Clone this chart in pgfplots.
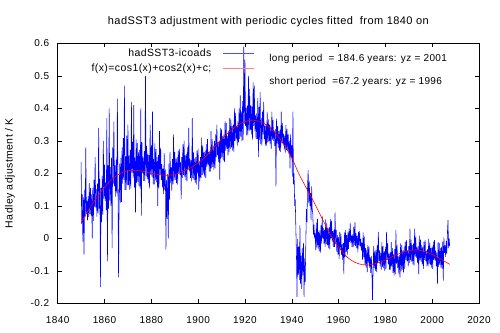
\documentclass[border=0pt]{standalone}
\usepackage{fontspec}
\setmainfont{Liberation Sans}
\newfontfamily\spaced[LetterSpace=4]{Liberation Sans}
\usepackage{pgfplots}
\pgfplotsset{compat=1.18}

\begin{document}
\begin{tikzpicture}[font=\fontsize{10bp}{12bp}\selectfont]
\begin{axis}[
  name=ax,
  scale only axis,
  width=421.3bp, height=260bp,
  xmin=1840, xmax=2020, ymin=-0.2, ymax=0.6,
  xtick={1840,1860,1880,1900,1920,1940,1960,1980,2000,2020},
  xticklabels={1840,1860,1880,1900,1920,1940,1960,1980,2000,2020},
  ytick={-0.2,-0.1,0,0.1,0.2,0.3,0.4,0.5,0.6},
  yticklabels={-0.2,-0.1,0,0.1,0.2,0.3,0.4,0.5,0.6},
  tick align=inside,
  major tick length=4bp,
  tick style={black, line width=0.5bp},
  axis line style={black, line width=0.6bp},
  ticklabel style={font=\fontsize{10bp}{12bp}\spaced},
  xticklabel style={yshift=-10bp},
  yticklabel style={xshift=-5bp},
  legend cell align=right,
  legend plot pos=right,
  legend style={draw=none, fill=none, inner sep=0pt,
    at={(axis description cs:0.468,0.982)}, anchor=north east,
    column sep=10bp, row sep=3.2bp,
    nodes={inner sep=1bp, text height=7.5bp, text depth=2bp},
    font=\fontsize{10.5bp}{12bp}\spaced},
]
% quarterly adjustment values, 1850.00 to 2007.50
\addplot[blue, line width=0.55bp,
  legend image code/.code={\draw[blue!70, line width=1bp] (0bp,0bp) -- (31bp,0bp);}]
  table[row sep=\\, header=false,
  x expr={1850+0.25*\coordindex}, y index=0] {
0.235\\0.044\\0.135\\-0.01\\
0.126\\-0.05\\0.15\\0.066\\
0.28\\0.075\\0.115\\0.055\\
0.13\\0.065\\0.17\\0.075\\
0.155\\0.07\\0.135\\0.0\\
0.156\\0.054\\0.18\\0.096\\
0.25\\0.095\\0.151\\0.067\\
0.168\\0.077\\0.34\\0.091\\
0.183\\-0.15\\0.155\\0.05\\
0.192\\0.073\\0.30\\0.122\\
0.227\\0.115\\0.171\\0.087\\
0.37\\-0.07\\0.224\\0.091\\
0.40\\0.116\\0.22\\0.10\\
0.248\\-0.03\\0.28\\0.168\\
0.36\\0.16\\0.224\\0.128\\
0.242\\0.138\\0.43\\0.154\\
-0.12\\0.126\\0.23\\0.11\\
0.248\\0.112\\0.28\\0.168\\
0.308\\0.18\\0.47\\0.148\\
0.252\\0.148\\0.316\\0.164\\
0.35\\0.164\\0.255\\0.15\\
0.272\\0.153\\0.42\\0.202\\
0.297\\0.185\\0.41\\0.157\\
0.248\\0.08\\0.304\\0.171\\
0.293\\0.174\\0.265\\0.16\\
0.272\\0.153\\0.40\\0.07\\
0.296\\0.20\\0.248\\0.176\\
0.268\\0.177\\0.50\\0.191\\
0.284\\0.182\\0.26\\0.17\\
0.256\\0.154\\0.35\\0.196\\
0.286\\0.19\\0.39\\0.166\\
0.244\\0.166\\0.292\\0.178\\
0.274\\0.172\\0.25\\0.10\\
0.256\\0.154\\0.33\\0.196\\
0.276\\0.18\\0.228\\0.156\\
0.214\\0.136\\0.262\\0.148\\
0.212\\-0.035\\0.18\\0.06\\
0.198\\0.0\\0.23\\0.118\\
0.266\\0.17\\0.218\\0.146\\
0.244\\0.166\\0.32\\0.178\\
0.265\\0.18\\0.245\\0.17\\
0.25\\0.165\\0.27\\0.20\\
0.275\\0.195\\0.235\\0.12\\
0.25\\0.185\\0.29\\0.195\\
0.30\\0.19\\0.255\\0.18\\
0.26\\0.175\\0.28\\0.21\\
0.34\\0.205\\0.245\\0.185\\
0.24\\0.175\\0.37\\0.185\\
0.265\\0.18\\0.245\\0.17\\
0.25\\0.165\\0.27\\0.20\\
0.275\\0.15\\0.235\\0.175\\
0.25\\0.185\\0.31\\0.195\\
0.285\\0.20\\0.265\\0.19\\
0.27\\0.185\\0.29\\0.22\\
0.305\\0.225\\0.265\\0.205\\
0.27\\0.205\\0.33\\0.215\\
0.305\\0.22\\0.285\\0.21\\
0.30\\0.215\\0.32\\0.25\\
0.35\\0.255\\0.295\\0.235\\
0.30\\0.18\\0.34\\0.245\\
0.335\\0.25\\0.315\\0.24\\
0.32\\0.235\\0.36\\0.27\\
0.355\\0.275\\0.315\\0.255\\
0.33\\0.265\\0.37\\0.275\\
0.365\\0.28\\0.345\\0.27\\
0.35\\0.265\\0.40\\0.30\\
0.385\\0.305\\0.345\\0.285\\
0.36\\0.295\\0.40\\0.305\\
0.44\\0.312\\0.39\\0.30\\
0.422\\0.303\\0.59\\0.352\\
0.55\\0.345\\0.401\\0.317\\
0.408\\0.317\\0.50\\0.331\\
0.46\\0.332\\0.41\\0.32\\
0.406\\0.304\\0.48\\0.346\\
0.47\\0.33\\0.378\\0.306\\
0.384\\0.306\\0.432\\0.25\\
0.404\\0.302\\0.45\\0.29\\
0.37\\0.285\\0.39\\0.32\\
0.42\\0.305\\0.345\\0.285\\
0.35\\0.285\\0.39\\0.295\\
0.366\\0.298\\0.35\\0.29\\
0.344\\0.276\\0.39\\0.304\\
0.364\\0.30\\0.332\\0.284\\
0.336\\0.16\\0.368\\0.292\\
0.346\\0.278\\0.33\\0.27\\
0.334\\0.266\\0.39\\0.294\\
0.354\\0.29\\0.322\\0.274\\
0.316\\0.264\\0.348\\0.272\\
0.336\\0.268\\0.32\\0.26\\
0.30\\0.215\\0.32\\0.25\\
0.286\\0.19\\0.39\\0.166\\
0.20\\0.10\\0.12\\0.03\\
-0.046\\-0.18\\-0.002\\-0.112\\
-0.026\\-0.128\\0.04\\-0.14\\
-0.054\\-0.156\\-0.03\\-0.114\\
-0.014\\-0.18\\-0.062\\-0.134\\
-0.02\\0.09\\0.05\\0.16\\
0.21\\0.11\\0.175\\0.10\\
0.14\\0.055\\0.16\\0.09\\
0.074\\0.01\\0.042\\0.0\\
0.016\\-0.036\\0.048\\-0.028\\
0.06\\-0.032\\0.02\\-0.04\\
0.024\\-0.044\\0.04\\-0.016\\
0.07\\0.0\\0.032\\-0.016\\
0.026\\-0.026\\0.058\\-0.018\\
0.046\\-0.022\\0.03\\-0.03\\
0.034\\-0.034\\0.06\\0.0\\
0.054\\-0.01\\0.022\\-0.026\\
0.026\\-0.026\\0.08\\-0.018\\
0.026\\-0.042\\0.01\\-0.05\\
0.004\\-0.064\\0.02\\-0.036\\
0.014\\-0.05\\-0.018\\-0.066\\
-0.014\\-0.11\\0.018\\-0.058\\
0.026\\-0.042\\0.01\\-0.05\\
0.018\\-0.033\\0.03\\-0.012\\
0.046\\-0.015\\0.009\\-0.027\\
0.012\\-0.027\\0.036\\-0.021\\
0.05\\-0.024\\0.015\\-0.03\\
0.008\\-0.043\\0.02\\-0.022\\
0.023\\-0.025\\-0.001\\-0.037\\
-0.014\\-0.066\\0.018\\-0.058\\
0.005\\-0.082\\-0.03\\-0.09\\
-0.036\\-0.104\\-0.02\\-0.076\\
-0.026\\-0.09\\-0.058\\-0.106\\
-0.054\\-0.106\\-0.19\\-0.098\\
-0.024\\-0.092\\-0.04\\-0.10\\
-0.036\\-0.104\\-0.02\\-0.076\\
0.02\\-0.07\\-0.038\\-0.086\\
-0.044\\-0.096\\-0.012\\-0.088\\
-0.024\\-0.092\\-0.04\\-0.10\\
-0.026\\-0.094\\0.02\\-0.066\\
-0.016\\-0.08\\-0.048\\-0.096\\
-0.044\\-0.096\\-0.012\\-0.088\\
-0.03\\-0.106\\-0.048\\-0.115\\
-0.033\\-0.11\\0.025\\-0.078\\
-0.02\\-0.092\\-0.056\\-0.11\\
-0.052\\-0.12\\-0.016\\-0.102\\
-0.02\\-0.096\\-0.038\\-0.105\\
-0.026\\-0.094\\-0.01\\-0.066\\
-0.006\\-0.07\\-0.038\\-0.086\\
-0.024\\-0.076\\0.03\\-0.068\\
-0.004\\-0.072\\-0.02\\-0.08\\
-0.016\\-0.084\\0.03\\-0.056\\
0.004\\-0.06\\-0.028\\-0.076\\
-0.024\\-0.11\\0.008\\-0.068\\
-0.004\\-0.072\\-0.02\\-0.08\\
-0.026\\-0.094\\-0.01\\-0.066\\
-0.006\\-0.07\\-0.038\\-0.086\\
-0.034\\-0.086\\-0.002\\-0.078\\
-0.014\\-0.082\\-0.03\\-0.09\\
-0.026\\-0.094\\-0.01\\-0.066\\
-0.006\\-0.07\\-0.038\\-0.086\\
-0.044\\-0.14\\-0.012\\-0.088\\
-0.014\\-0.082\\-0.03\\-0.09\\
-0.026\\-0.094\\-0.01\\-0.13\\
0.003\\-0.045\\-0.021\\-0.057\\
-0.008\\-0.047\\0.016\\0.056\\
-0.03\\0.0\\-0.025\\
};
\addlegendentry{hadSST3-icoads}
% fitted sum of the two periodic cycles
\addplot[red, line width=0.6bp, smooth,
  legend image code/.code={\draw[red!50, line width=1.3bp] (0bp,0bp) -- (31bp,0bp);}]
  coordinates {
(1850,0.048)(1853,0.085)(1856,0.118)(1859,0.148)(1862,0.173)(1865,0.192)
(1868,0.204)(1871,0.209)(1874,0.209)(1877,0.205)(1880,0.2)(1883,0.196)
(1886,0.194)(1889,0.195)(1892,0.201)(1895,0.211)(1898,0.222)(1901,0.238)
(1904,0.258)(1907,0.282)(1910,0.305)(1913,0.325)(1916,0.343)(1919,0.356)
(1922,0.363)(1925,0.362)(1928,0.354)(1931,0.338)(1934,0.315)(1937,0.285)
(1940,0.248)(1943,0.199)(1946,0.158)(1949,0.118)(1952,0.075)(1955,0.032)
(1958,-0.006)(1961,-0.036)(1964,-0.06)(1967,-0.074)(1970,-0.081)(1973,-0.082)
(1976,-0.077)(1979,-0.07)(1982,-0.06)(1985,-0.05)(1988,-0.042)(1991,-0.037)
(1994,-0.036)(1997,-0.041)(2000,-0.05)(2003,-0.061)(2006,-0.074)(2007.5,-0.08)
};
\addlegendentry{f(x)=cos1(x)+cos2(x)+c;}
\node[anchor=west, inner sep=0pt, font=\fontsize{10bp}{12bp}\spaced] at (axis cs:1930.3,0.551) {long period\ \ = 184.6 years: yz = 2001};
\node[anchor=west, inner sep=0pt, font=\fontsize{10bp}{12bp}\spaced] at (axis cs:1930.3,0.482) {short period\ \ =67.2 years: yz = 1996};
\end{axis}
\node[font=\fontsize{11bp}{13bp}\spaced] at ([yshift=22bp]ax.north) {hadSST3 adjustment with periodic cycles fitted\ \ from 1840 on};
\node[rotate=90, font=\fontsize{10.5bp}{12bp}\spaced] at ([xshift=-47.7bp]ax.west) {Hadley adjustment / K};
\pgfresetboundingbox
\path[use as bounding box] ([xshift=-57.7bp,yshift=-29.7bp]ax.south west) rectangle ([xshift=21bp,yshift=43.3bp]ax.north east);
\end{tikzpicture}
\end{document}
